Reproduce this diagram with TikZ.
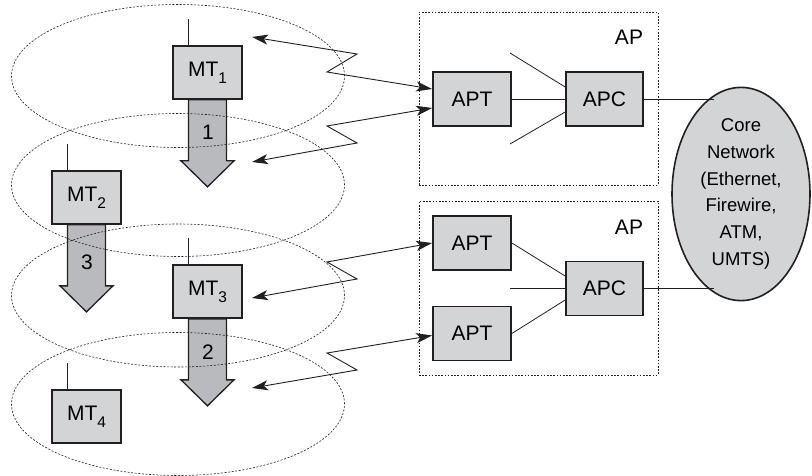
\documentclass[tikz,border=0pt]{standalone}
\usepackage{fontspec}
\setmainfont{Liberation Sans}
\usetikzlibrary{arrows.meta,shapes.geometric}
\definecolor{boxgray}{HTML}{D3D4D6}
\definecolor{arrowgray}{HTML}{B9BABD}
\definecolor{ink}{HTML}{231F20}
\newcommand{\mtlabel}[1]{MT\raisebox{-0.32em}{\fontsize{15.5}{15.5}\selectfont #1}}
\begin{document}
\begin{tikzpicture}[x=1pt,y=-1pt,
 devbox/.style={draw=ink, line width=1.7pt, fill=boxgray, minimum width=78pt, minimum height=54pt, inner sep=0pt, font=\fontsize{21}{24}\selectfont},
 mtbox/.style={devbox, minimum width=69pt, minimum height=53pt},
 zone/.style={draw=ink, ellipse, line width=0.6pt, dash pattern=on 2pt off 1.6pt, minimum width=333pt, minimum height=143pt, inner sep=0pt},
 apbox/.style={draw=ink, line width=0.8pt, dash pattern=on 1.6pt off 1.6pt, inner sep=0pt, minimum width=239pt},
 wire/.style={draw=ink, line width=0.8pt},
 radio/.style={draw=ink, line width=0.9pt, {Stealth[length=16pt,width=10pt,inset=4pt]}-{Stealth[length=16pt,width=10pt,inset=4pt]}},
 move/.style={draw=ink, line width=1.3pt, fill=arrowgray},
 tag/.style={font=\fontsize{21}{24}\selectfont, inner sep=0pt},
 core/.style={draw=ink, ellipse, line width=1.6pt, fill=boxgray, minimum width=138pt, minimum height=204pt, inner sep=0pt, align=center, font=\fontsize{18.5}{26.8}\selectfont},
]
\useasboundingbox (0,0) rectangle (812,476);

% access points
\node[apbox, minimum height=173pt] (ap1) at (538.5,98.5) {};
\node[apbox, minimum height=174pt] (ap2) at (538.5,288) {};
\node[tag] (ap1l) at (629,37) {AP};
\node[tag] (ap2l) at (629,227) {AP};

\node[devbox] (apt1) at (472,99) {APT};
\node[devbox, minimum width=77pt] (apc1) at (604.5,99) {APC};
\node[devbox] (apt2a) at (472,243) {APT};
\node[devbox] (apt2b) at (472,333.5) {APT};
\node[devbox, minimum width=77pt] (apc2) at (604.5,288.5) {APC};

\node[core] (core) at (741,194) {Core\\Network\\(Ethernet,\\Firewire,\\ATM,\\UMTS)};

% mobile terminals
\node[mtbox] (mt1) at (207.5,72.5) {\mtlabel{1}};
\node[mtbox] (mt2) at (86.5,197.5) {\mtlabel{2}};
\node[mtbox] (mt3) at (207.5,291.5) {\mtlabel{3}};
\node[mtbox] (mt4) at (86.5,416.5) {\mtlabel{4}};

% antennas
\draw[wire] ([xshift=16pt]mt1.north west) -- ++(0,-26);
\draw[wire] ([xshift=16pt]mt2.north west) -- ++(0,-26);
\draw[wire] ([xshift=16pt]mt3.north west) -- ++(0,-26);
\draw[wire] ([xshift=16pt]mt4.north west) -- ++(0,-26);

% movement arrows
\draw[move] ([xshift=-19pt]mt1.south) -- ++(0,61) -- ++(-7.5,0) -- ++(26.5,26) -- ++(26.5,-26) -- ++(-7.5,0) -- ++(0,-61) -- cycle;
\draw[move] ([xshift=-19pt]mt2.south) -- ++(0,61) -- ++(-7.5,0) -- ++(26.5,26) -- ++(26.5,-26) -- ++(-7.5,0) -- ++(0,-61) -- cycle;
\draw[move] ([xshift=-19pt]mt3.south) -- ++(0,61) -- ++(-7.5,0) -- ++(26.5,26) -- ++(26.5,-26) -- ++(-7.5,0) -- ++(0,-61) -- cycle;
\node[tag] (m1) at (208,132) {1};
\node[tag] (m3) at (87,262) {3};
\node[tag] (m2) at (208,352) {2};

% coverage zones (drawn over the movement arrows)
\node[zone] (z1) at (178,76) {};
\node[zone] (z2) at (178,185) {};
\node[zone] (z3) at (178,295.5) {};
\node[zone] (z4) at (178,404) {};

% radio links
\coordinate (r1) at (252,37);
\coordinate (r2) at (252,162);
\coordinate (r3) at (252,298);
\coordinate (r4) at (252,388);
\draw[radio] (r1) -- (357,54) -- (327,72) -- ([yshift=10pt]apt1.west);
\draw[radio] (r2) -- (357,143) -- (327,126) -- ([yshift=-9pt]apt1.west);
\draw[radio] (r3) -- (357,279) -- (327,262) -- (apt2a.west);
\draw[radio] (r4) -- (357,370) -- (327,353) -- ([yshift=-2pt]apt2b.west);

% AP internal wiring
\coordinate (s1) at (510,53);
\coordinate (s2) at (510,144);
\coordinate (s3) at (510,288.5);
\draw[wire] (apt1.east) -- (apc1.west);
\draw[wire] (s1) -- ([yshift=12pt]apc1.west);
\draw[wire] (s2) -- ([yshift=-13pt]apc1.west);
\draw[wire] (apt2a.east) -- ([yshift=12.5pt]apc2.west);
\draw[wire] (apt2b.east) -- ([yshift=-11.5pt]apc2.west);
\draw[wire] (s3) -- (apc2.west);

% links to core network
\draw[wire] (apc1.east) -- (apc1.east -| core.105);
\draw[wire] (apc2.east) -- (apc2.east -| core.255);
\end{tikzpicture}
\end{document}
